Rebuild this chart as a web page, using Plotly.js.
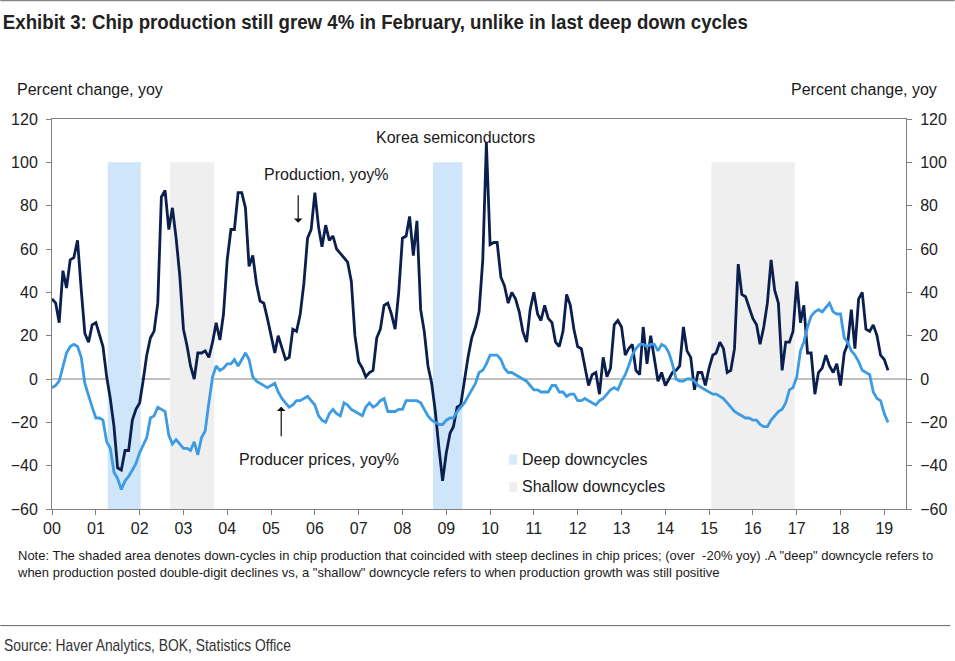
<!DOCTYPE html>
<html>
<head>
<meta charset="utf-8">
<script src="https://cdn.plot.ly/plotly-3.0.1.min.js"></script>
<style>
html,body{margin:0;padding:0;background:#fff;}
#chart{width:955px;height:661px;}
</style>
</head>
<body>
<div id="chart"></div>
<script>
// Monthly data, Jan 2000 .. Feb 2019
const startYear = 2000;
const production = [
 37,35,26,50,42,55,56,64,41,21,17,25,
 26,20,15,1,-9,-22,-41,-42,-33,-33,-19,-14,
 -11,0,11,19,22,35,84,87,69,79,65,48,
 23,15,6,0,12,12,13,10,17,26,18,30,
 55,69,69,86,86,79,52,57,44,36,35,28,
 20,12,20,14,9,10,23,22,30,44,65,69,
 86,70,61,71,64,66,60,58,56,54,45,20,
 8,5,1,3,4,19,23,34,35,30,23,40,
 65,66,75,57,73,32,22,6,-2,-15,-32,-47,
 -34,-25,-22,-13,-12,0,10,19,24,31,55,109,
 62,63,63,47,43,35,40,37,31,22,17,32,
 40,30,27,34,28,26,17,15,22,39,34,23,
 15,14,5,-3,2,3,-7,10,1,5,25,27,
 24,11,14,16,4,2,24,7,20,10,-1,3,
 -3,0,3,4,6,24,13,10,-5,3,3,-3,
 5,11,12,17,14,3,4,14,53,39,38,33,
 28,25,16,24,35,55,41,35,4,17,17,22,
 45,26,34,12,12,-7,3,5,11,6,3,7,
 -3,12,16,32,14,37,40,23,22,25,20,11,
 9,4
];
const producerPrices = [
 -4,-3,-1,5,12,15,16,15,10,-2,-8,-13,
 -18,-18,-19,-29,-32,-43,-46,-51,-47,-45,-42,-39,
 -34,-30,-27,-18,-17,-13,-14,-15,-26,-30,-28,-30,
 -32,-32,-33,-29,-35,-27,-24,-11,1,6,4,5,
 7,7,9,6,9,12,9,1,-1,-2,-3,-4,
 -3,-2,-6,-9,-11,-13,-12,-10,-10,-9,-8,-10,
 -12,-17,-19,-20,-16,-14,-16,-17,-11,-12,-14,-15,
 -16,-17,-13,-11,-13,-12,-10,-9,-15,-15,-15,-14,
 -14,-10,-10,-10,-10,-11,-14,-17,-19,-20,-21,-21,
 -19,-18,-18,-15,-13,-11,-8,-5,-2,3,4,7,
 11,11,11,9,5,3,3,2,1,0,-1,-3,
 -5,-5,-6,-6,-6,-3,-3,-6,-6,-8,-7,-7,
 -10,-10,-9,-10,-11,-12,-10,-9,-7,-5,-4,-5,
 -1,2,6,11,14,16,16,15,16,16,13,16,
 15,12,7,0,-1,-1,0,0,-1,-3,-4,-5,
 -6,-7,-7,-8,-9,-11,-13,-15,-16,-17,-18,-18,
 -19,-19,-21,-22,-22,-19,-17,-15,-14,-11,-5,-4,
 1,13,17,24,29,31,32,31,33,35,31,30,
 30,19,17,13,11,8,4,3,2,-6,-9,-10,
 -16,-20
];
const deepStart = ['2001-04-10', '2008-09-12'];
const deepEnd = ['2002-01-10', '2009-05-15'];
const shallowStart = ['2002-09-12', '2015-01-20'];
const shallowEnd = ['2003-09-15', '2016-12-15'];
const shadeTop = 100;
const shadeBottom = -60;
const yearTickLabels = ['00','01','02','03','04','05','06','07','08','09','10','11','12','13','14','15','16','17','18','19'];

const dates = production.map((v, i) => {
  const y = startYear + Math.floor(i / 12);
  const m = (i % 12) + 1;
  return y + '-' + String(m).padStart(2, '0') + '-01';
});
const tickVals = yearTickLabels.map((t, i) => (startYear + i) + '-01-01');

const FONT = 'Liberation Sans, Arial, sans-serif';
const TXT = '#1a1a1a';

const traces = [
  {x: dates, y: producerPrices, type: 'scatter', mode: 'lines', name: 'Producer prices, yoy%',
   line: {color: '#3c9be2', width: 2.8}, yaxis: 'y2', hoverinfo: 'skip'},
  {x: dates, y: production, type: 'scatter', mode: 'lines', name: 'Production, yoy%',
   line: {color: '#0b1f4e', width: 2.8}, hoverinfo: 'skip'}
];

const shapes = [];
deepStart.forEach((s, k) => shapes.push({type: 'rect', xref: 'x', yref: 'y', x0: s, x1: deepEnd[k],
  y0: shadeBottom, y1: shadeTop, fillcolor: '#cfe6fa', line: {width: 0}, layer: 'below'}));
shallowStart.forEach((s, k) => shapes.push({type: 'rect', xref: 'x', yref: 'y', x0: s, x1: shallowEnd[k],
  y0: shadeBottom, y1: shadeTop, fillcolor: '#efefef', line: {width: 0}, layer: 'below'}));
// legend swatches
shapes.push({type: 'rect', xref: 'paper', yref: 'paper', x0: 0.5353, x1: 0.5447, y0: 0.1136, y1: 0.1392,
  fillcolor: '#d5eafb', line: {width: 0}});
shapes.push({type: 'rect', xref: 'paper', yref: 'paper', x0: 0.5353, x1: 0.5447, y0: 0.0444, y1: 0.07,
  fillcolor: '#efefef', line: {width: 0}});
// page rules
shapes.push({type: 'line', xref: 'paper', yref: 'paper', x0: -0.0605, x1: 1.057, y0: 1.3033, y1: 1.3033,
  line: {color: '#666', width: 1}});
shapes.push({type: 'line', xref: 'paper', yref: 'paper', x0: -0.0605, x1: 1.052, y0: -0.299, y1: -0.299,
  line: {color: '#666', width: 1}});

function px2x(px) { return (px - 51.7) / 854.3; }
function py2y(py) { return (509.3 - py) / 390; }

const annotations = [
  {text: 'Percent change, yoy', xref: 'paper', yref: 'paper', x: px2x(15), y: py2y(90), xanchor: 'left', yanchor: 'middle',
   showarrow: false, font: {family: FONT, size: 16, color: TXT}},
  {text: 'Percent change, yoy', xref: 'paper', yref: 'paper', x: px2x(939), y: py2y(90), xanchor: 'right', yanchor: 'middle',
   showarrow: false, font: {family: FONT, size: 16, color: TXT}},
  {text: 'Korea semiconductors', xref: 'paper', yref: 'paper', x: px2x(455), y: py2y(138), xanchor: 'center', yanchor: 'middle',
   showarrow: false, font: {family: FONT, size: 16, color: TXT}},
  {text: 'Production, yoy%', xref: 'paper', yref: 'paper', x: px2x(326), y: py2y(175), xanchor: 'center', yanchor: 'middle',
   showarrow: false, font: {family: FONT, size: 16, color: TXT}},
  {text: 'Producer prices, yoy%', xref: 'paper', yref: 'paper', x: px2x(319), y: py2y(460), xanchor: 'center', yanchor: 'middle',
   showarrow: false, font: {family: FONT, size: 16, color: TXT}},
  {text: '', xref: 'paper', yref: 'paper', x: px2x(298), y: py2y(223), ax: 0, ay: -29,
   showarrow: true, arrowhead: 1, arrowsize: 1.2, arrowwidth: 1.2, arrowcolor: '#111'},
  {text: '', xref: 'paper', yref: 'paper', x: px2x(281), y: py2y(407), ax: 0, ay: 31,
   showarrow: true, arrowhead: 1, arrowsize: 1.2, arrowwidth: 1.2, arrowcolor: '#111'},
  {text: 'Deep downcycles', xref: 'paper', yref: 'paper', x: px2x(520), y: py2y(460), xanchor: 'left', yanchor: 'middle',
   showarrow: false, font: {family: FONT, size: 16, color: TXT}},
  {text: 'Shallow downcycles', xref: 'paper', yref: 'paper', x: px2x(520), y: py2y(487), xanchor: 'left', yanchor: 'middle',
   showarrow: false, font: {family: FONT, size: 16, color: TXT}},
  {text: 'Note: The shaded area denotes down-cycles in chip production that coincided with steep declines in chip prices; (over  -20% yoy) .A "deep" downcycle refers to<br>when production posted double-digit declines vs, a "shallow" downcycle refers to when production growth was still positive',
   xref: 'paper', yref: 'paper', x: px2x(15), y: py2y(546), xanchor: 'left', yanchor: 'top', align: 'left',
   showarrow: false, font: {family: FONT, size: 13, color: TXT}},
  {text: 'Source: Haver Analytics, BOK, Statistics Office', xref: 'paper', yref: 'paper', x: px2x(2), y: py2y(646),
   xanchor: 'left', yanchor: 'middle', showarrow: false, font: {family: FONT, size: 17, color: '#333'}}
];

const yax = {range: [-60, 120], dtick: 20, tick0: 0, ticks: 'outside', ticklen: 5, tickcolor: '#808080',
  showline: true, linecolor: '#808080', linewidth: 1, showgrid: false, zeroline: false, ticklabelstandoff: 5,
  tickfont: {family: FONT, size: 16, color: '#222'}, fixedrange: true};

const layout = {
  width: 955, height: 661,
  margin: {l: 52, r: 49, t: 119, b: 152},
  paper_bgcolor: '#fff', plot_bgcolor: '#fff',
  showlegend: false,
  title: {text: '<b>Exhibit 3: Chip production still grew 4% in February, unlike in last deep down cycles</b>',
    xref: 'container', yref: 'container', x: 0.003, xanchor: 'left', y: 1 - 22 / 661, yanchor: 'middle',
    font: {family: FONT, size: 21, color: '#222'}},
  xaxis: {type: 'date', range: ['2000-01-01', '2019-07-01'], tickmode: 'array', tickvals: tickVals, ticktext: yearTickLabels,
    ticks: 'outside', ticklen: 5, tickcolor: '#808080', showline: true, mirror: true, linecolor: '#808080', linewidth: 1,
    showgrid: false, zeroline: false, tickfont: {family: FONT, size: 16, color: '#222'}, fixedrange: true},
  yaxis: Object.assign({}, yax, {side: 'left'}),
  yaxis2: Object.assign({}, yax, {side: 'right', overlaying: 'y'}),
  shapes: shapes.concat([{type: 'line', xref: 'paper', yref: 'y', x0: 0, x1: 1, y0: 0, y1: 0,
    line: {color: '#808080', width: 1}, layer: 'below'}]),
  annotations: annotations
};

function condense(el, len, keepLeft) {
  if (!el) return;
  if (keepLeft) {
    const bb = el.getBBox();
    el.setAttribute('text-anchor', 'start');
    el.style.textAnchor = 'start';
    el.setAttribute('x', bb.x);
  }
  el.setAttribute('textLength', len);
  el.setAttribute('lengthAdjust', 'spacingAndGlyphs');
}

Plotly.newPlot('chart', traces, layout, {displayModeBar: false, staticPlot: true}).then(function (gd) {
  condense(gd.querySelector('.gtitle'), 745, false);
  gd.querySelectorAll('.annotation-text').forEach(function (t) {
    if ((t.textContent || '').indexOf('Source:') === 0) condense(t, 287, true);
  });
});
</script>
</body>
</html>
